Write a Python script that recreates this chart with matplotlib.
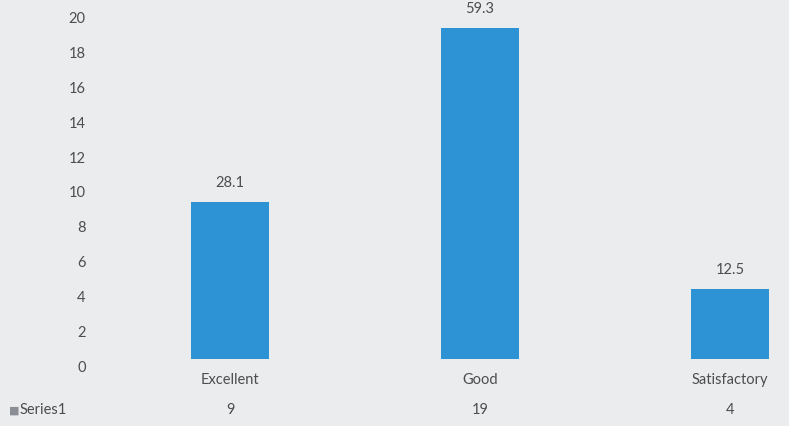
import numpy as np
import matplotlib.pyplot as plt
from matplotlib import transforms

# chart data
categories = ["Excellent", "Good", "Satisfactory"]
counts = [9, 19, 4]
percents = ["28.1", "59.3", "12.5"]
series_name = "Series1"
yticks = list(range(0, 21, 2))

bg = "#ebecee"
bar_col = "#2e93d5"
txt_col = "#4d4d4d"

plt.rcParams['font.family'] = ['Lato', 'DejaVu Sans']

fig = plt.figure(figsize=(7.89, 4.26), dpi=100, facecolor=bg)
ax = fig.add_axes([105/789, 67/426, 684/789, 348/426], facecolor=bg)

x = np.arange(len(categories))
ax.bar(x, counts, width=0.31, color=bar_col, zorder=2)

for xi, c, p in zip(x, counts, percents):
    ax.annotate(p, (xi, c), xytext=(0, 9), textcoords="offset points",
                ha="center", va="bottom", fontsize=10.5, color=txt_col)

ax.set_xlim(-0.5, 2.236)
ax.set_ylim(0, 20)
ax.set_yticks(yticks)
ax.set_yticklabels([str(t) for t in yticks], fontsize=10.5, color=txt_col)
ax.tick_params(axis="y", length=0, pad=14)
# labels sit a bit below their gridline positions in the original
shift = transforms.ScaledTranslation(0, -7/100, fig.dpi_scale_trans)
for lab in ax.get_yticklabels():
    lab.set_transform(lab.get_transform() + shift)
ax.set_xticks([])
for s in ax.spines.values():
    s.set_visible(False)

# data table under the plot
trans = transforms.blended_transform_factory(ax.transData, fig.transFigure)
for xi, cat, c in zip(x, categories, counts):
    ax.text(xi, 1 - 380/426, cat, transform=trans, ha="center", va="center",
            fontsize=10.5, color=txt_col)
    ax.text(xi, 1 - 410/426, str(c), transform=trans, ha="center", va="center",
            fontsize=10.5, color=txt_col)
fig.text(9/789, 1 - 410/426, "\u25a0", ha="left", va="center",
         fontsize=8, color="#8a8d94")
fig.text(20/789, 1 - 410/426, series_name, ha="left", va="center",
         fontsize=10.5, color=txt_col)

fig.savefig("out.png", dpi=100, facecolor=bg)
